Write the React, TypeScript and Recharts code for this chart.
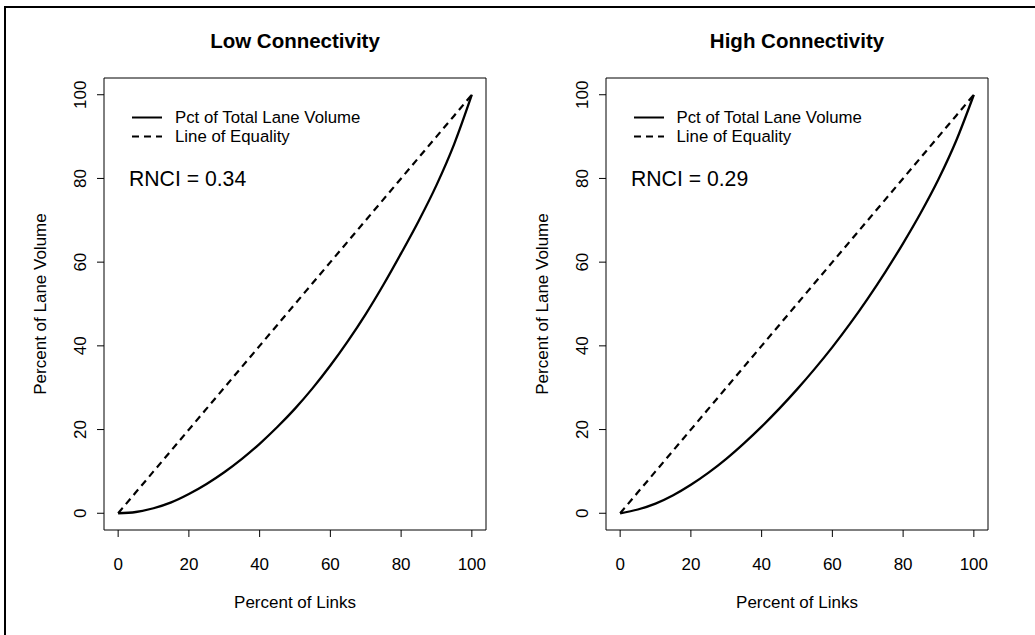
import React from 'react';
import { LineChart, Line, XAxis, YAxis, ReferenceArea, Legend, Label } from 'recharts';

// percent of links (x) and the cumulative lane volume
const pctLinks = [0, 5, 10, 15, 20, 25, 30, 35, 40, 45, 50, 55, 60, 65, 70, 75, 80, 85, 90, 95, 100];
const lowVolume = [0, 0.3, 1.2, 2.6, 4.6, 7, 9.8, 13, 16.6, 20.6, 25, 29.9, 35.3, 41.2, 47.6, 54.6, 62.1, 69.9, 78.4, 88.2, 100];
const highVolume = [0, 0.9, 2.3, 4.3, 6.8, 9.7, 13, 16.7, 20.7, 25, 29.6, 34.5, 39.7, 45.3, 51.3, 57.7, 64.5, 71.8, 79.8, 89, 100];
const equality = [0, 5, 10, 15, 20, 25, 30, 35, 40, 45, 50, 55, 60, 65, 70, 75, 80, 85, 90, 95, 100];

const tickValues = [0, 20, 40, 60, 80, 100];
const panelTitles = ['Low Connectivity', 'High Connectivity'];
const rnciValues = ['0.34', '0.29'];
const seriesNames = ['Pct of Total Lane Volume', 'Line of Equality'];

const DASH = '7 5';
const W = 502;
const H = 635;

const XTick = ({ x, y, payload }: any) => (
  <text x={x} y={y} dy={12} textAnchor="middle" fontSize={17} fill="#000">
    {payload.value}
  </text>
);

const YTick = ({ x, y, payload }: any) => (
  <text x={x} y={y} textAnchor="middle" transform={`rotate(-90, ${x}, ${y})`} fontSize={17} fill="#000">
    {payload.value}
  </text>
);

const renderLegend = ({ payload }: any) => (
  <div>
    {(payload || []).map((entry: any) => (
      <div key={entry.value} style={{ display: 'flex', alignItems: 'center', height: 19 }}>
        <svg width={43} height={19} style={{ display: 'block' }}>
          <line x1={0} x2={30} y1={9.5} y2={9.5} stroke="#000" strokeWidth={2}
            strokeDasharray={entry.value === seriesNames[1] ? DASH : undefined} />
        </svg>
        <span style={{ fontSize: 16.8, lineHeight: '19px', color: '#000', whiteSpace: 'nowrap' }}>{entry.value}</span>
      </div>
    ))}
  </div>
);

function Panel({ title, volume, rnci }: { title: string; volume: number[]; rnci: string }) {
  const rows = pctLinks.map((x, i) => ({ x, volume: volume[i], equality: equality[i] }));
  return (
    <LineChart width={W} height={H} data={rows} margin={{ top: 78, right: 16, bottom: 0, left: 0 }}>
      <XAxis type="number" dataKey="x" domain={[-4, 104]} ticks={tickValues} allowDataOverflow
        axisLine={false} tickSize={7} tickMargin={20.5} stroke="#000" tick={<XTick />} height={105}>
        <Label content={({ viewBox }: any) => (
          <text x={viewBox.x + viewBox.width / 2} y={608} textAnchor="middle" fontSize={17} fill="#000">
            Percent of Links
          </text>
        )} />
      </XAxis>
      <YAxis type="number" domain={[-4, 104]} ticks={tickValues} allowDataOverflow
        axisLine={false} tickSize={7} tickMargin={10.5} stroke="#000" tick={<YTick />} width={104}>
        <Label content={({ viewBox }: any) => {
          const cy = viewBox.y + viewBox.height / 2;
          return (
            <text x={46} y={cy} textAnchor="middle" transform={`rotate(-90, 46, ${cy})`} fontSize={17} fill="#000">
              Percent of Lane Volume
            </text>
          );
        }} />
      </YAxis>
      <ReferenceArea x1={-4} x2={104} y1={-4} y2={104} fill="none" stroke="#000" strokeWidth={1} ifOverflow="visible" />
      <Line type="monotone" dataKey="volume" name={seriesNames[0]} stroke="#000" strokeWidth={2.3}
        dot={false} activeDot={false} isAnimationActive={false} />
      <Line type="monotone" dataKey="equality" name={seriesNames[1]} stroke="#000" strokeWidth={2.2}
        strokeDasharray={DASH} dot={false} activeDot={false} isAnimationActive={false} />
      <Legend content={renderLegend} layout="vertical" verticalAlign="middle" align="center"
        itemSorter={(item: any) => seriesNames.indexOf(item.value)}
        wrapperStyle={{ left: 132, top: 107.5, width: 'auto' }} />
      <text x={295} y={47.5} textAnchor="middle" fontSize={20.5} fontWeight="bold" fill="#000">{title}</text>
      <text x={129} y={186} fontSize={21.2} fill="#000">RNCI = {rnci}</text>
    </LineChart>
  );
}

export default function App() {
  return (
    <div style={{
      position: 'fixed', left: 0, top: 0, width: 1035, height: 635, background: '#fff',
      fontFamily: '"Liberation Sans", Arial, sans-serif', overflow: 'hidden'
    }}>
      <div style={{ position: 'absolute', left: 4, top: 6, width: 1100, height: 700, borderLeft: '2px solid #000', borderTop: '2px solid #000' }} />
      <div style={{ position: 'absolute', left: 0, top: 0 }}>
        <Panel title={panelTitles[0]} volume={lowVolume} rnci={rnciValues[0]} />
      </div>
      <div style={{ position: 'absolute', left: 501.5, top: 0 }}>
        <Panel title={panelTitles[1]} volume={highVolume} rnci={rnciValues[1]} />
      </div>
    </div>
  );
}
